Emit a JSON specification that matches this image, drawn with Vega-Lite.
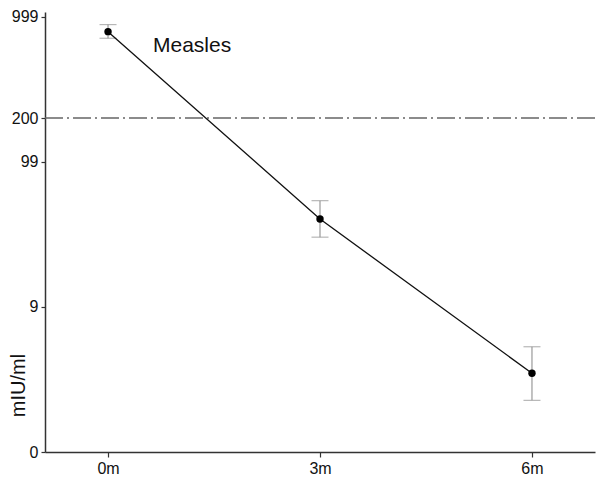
{
  "$schema": "https://vega.github.io/schema/vega-lite/v6.json",
  "width": 550,
  "height": 440,
  "autosize": {"type": "none"},
  "padding": {"left": 45, "top": 12, "right": 9, "bottom": 35},
  "background": "white",
  "config": {
    "view": {"stroke": null},
    "font": "Liberation Sans",
    "axis": {"grid": false, "domainColor": "#333", "domainWidth": 1.5, "tickColor": "#333", "tickWidth": 1.2, "labelColor": "#111", "labelFont": "Liberation Sans", "titleFont": "Liberation Sans", "titleFontWeight": "normal", "titleColor": "#111"}
  },
  "datasets": {
    "pts": [
      {"month": 0, "mean": 791, "lo": 712, "hi": 885},
      {"month": 3, "mean": 39.4, "lo": 29.3, "hi": 53.1},
      {"month": 6, "mean": 2.49, "lo": 1.27, "hi": 4.32}
    ],
    "ref": [{"v": 200}],
    "lab": [{"month": 0.636, "v": 630, "text": "Measles"}]
  },
  "encoding": {
    "x": {
      "field": "month", "type": "quantitative",
      "scale": {"domain": [-0.892, 6.892], "nice": false, "zero": false},
      "axis": {"values": [0, 3, 6], "labelExpr": "datum.value + 'm'", "title": null, "tickSize": 5, "labelPadding": 3, "labelFontSize": 16}
    }
  },
  "layer": [
    {
      "data": {"name": "ref"},
      "mark": {"type": "rule", "color": "#666", "strokeWidth": 1.5, "strokeDash": [18, 4, 2, 4]},
      "encoding": {
        "x": null,
        "y": {"field": "v", "type": "quantitative", "scale": {"type": "symlog", "constant": 1, "domain": [0, 1081], "nice": false},
          "axis": {"values": [0, 9, 99, 200, 999], "title": "mIU/ml", "tickSize": 4, "labelPadding": 3, "labelFontSize": 16, "titleFontSize": 20, "titleX": -27, "titleY": 373, "titleAngle": -90, "titleAlign": "center", "titleBaseline": "middle"}}
      }
    },
    {
      "data": {"name": "pts"},
      "mark": {"type": "rule", "color": "#999", "strokeWidth": 1.2},
      "encoding": {
        "y": {"field": "lo", "type": "quantitative"},
        "y2": {"field": "hi"}
      }
    },
    {
      "data": {"name": "pts"},
      "mark": {"type": "tick", "orient": "horizontal", "color": "#999", "size": 17, "thickness": 1.2},
      "encoding": {"y": {"field": "lo", "type": "quantitative"}}
    },
    {
      "data": {"name": "pts"},
      "mark": {"type": "tick", "orient": "horizontal", "color": "#999", "size": 17, "thickness": 1.2},
      "encoding": {"y": {"field": "hi", "type": "quantitative"}}
    },
    {
      "data": {"name": "pts"},
      "mark": {"type": "line", "color": "#111", "strokeWidth": 1.3},
      "encoding": {"y": {"field": "mean", "type": "quantitative"}}
    },
    {
      "data": {"name": "pts"},
      "mark": {"type": "point", "filled": true, "color": "#000", "opacity": 1, "size": 55},
      "encoding": {"y": {"field": "mean", "type": "quantitative"}}
    },
    {
      "data": {"name": "lab"},
      "mark": {"type": "text", "align": "left", "baseline": "middle", "fontSize": 21, "color": "#111", "font": "Liberation Sans"},
      "encoding": {
        "y": {"field": "v", "type": "quantitative"},
        "text": {"field": "text"}
      }
    }
  ]
}
